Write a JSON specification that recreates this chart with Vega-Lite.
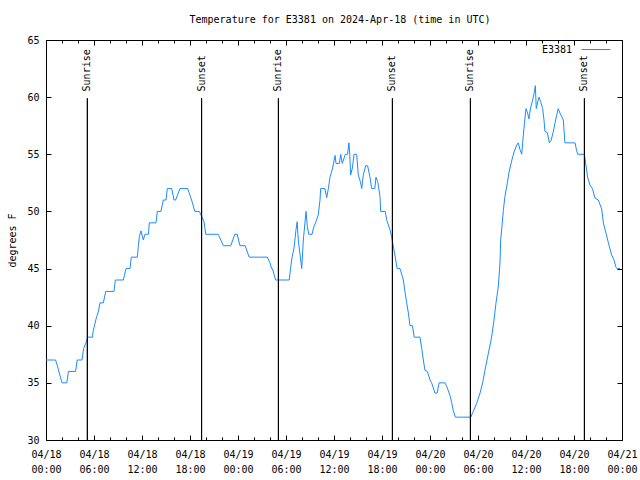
{
  "$schema": "https://vega.github.io/schema/vega-lite/v6.json",
  "width": 576,
  "height": 400,
  "autosize": {"type": "none"},
  "padding": {"left": 46, "top": 40, "right": 18, "bottom": 40},
  "background": "white",
  "title": {"text": "Temperature for E3381 on 2024-Apr-18 (time in UTC)", "font": "DejaVu Sans Mono", "fontSize": 10, "fontWeight": "normal", "color": "black", "anchor": "middle", "offset": 2, "baseline": "alphabetic", "dx": 6},
  "datasets": {
    "temps": [
      {"t": "2024-04-18T00:00:00Z", "v": 37},
      {"t": "2024-04-18T01:12:00Z", "v": 37},
      {"t": "2024-04-18T01:30:00Z", "v": 36.3},
      {"t": "2024-04-18T01:48:00Z", "v": 35.5},
      {"t": "2024-04-18T02:00:00Z", "v": 35},
      {"t": "2024-04-18T02:36:00Z", "v": 35},
      {"t": "2024-04-18T02:48:00Z", "v": 36},
      {"t": "2024-04-18T03:42:00Z", "v": 36},
      {"t": "2024-04-18T03:54:00Z", "v": 37},
      {"t": "2024-04-18T04:30:00Z", "v": 37},
      {"t": "2024-04-18T04:42:00Z", "v": 38},
      {"t": "2024-04-18T05:00:00Z", "v": 38.5},
      {"t": "2024-04-18T05:12:00Z", "v": 39},
      {"t": "2024-04-18T05:48:00Z", "v": 39},
      {"t": "2024-04-18T05:55:00Z", "v": 39.6},
      {"t": "2024-04-18T06:20:00Z", "v": 40.8},
      {"t": "2024-04-18T06:32:00Z", "v": 41.2},
      {"t": "2024-04-18T06:45:00Z", "v": 42},
      {"t": "2024-04-18T07:10:00Z", "v": 42},
      {"t": "2024-04-18T07:28:00Z", "v": 43},
      {"t": "2024-04-18T08:30:00Z", "v": 43},
      {"t": "2024-04-18T08:40:00Z", "v": 44},
      {"t": "2024-04-18T09:40:00Z", "v": 44},
      {"t": "2024-04-18T10:00:00Z", "v": 45},
      {"t": "2024-04-18T10:30:00Z", "v": 45},
      {"t": "2024-04-18T10:40:00Z", "v": 46},
      {"t": "2024-04-18T11:25:00Z", "v": 46},
      {"t": "2024-04-18T11:33:00Z", "v": 47},
      {"t": "2024-04-18T11:40:00Z", "v": 47.8},
      {"t": "2024-04-18T11:52:00Z", "v": 48.3},
      {"t": "2024-04-18T12:10:00Z", "v": 47.5},
      {"t": "2024-04-18T12:22:00Z", "v": 48},
      {"t": "2024-04-18T12:48:00Z", "v": 48},
      {"t": "2024-04-18T12:55:00Z", "v": 49},
      {"t": "2024-04-18T13:45:00Z", "v": 49},
      {"t": "2024-04-18T13:55:00Z", "v": 50},
      {"t": "2024-04-18T14:22:00Z", "v": 50},
      {"t": "2024-04-18T14:40:00Z", "v": 51},
      {"t": "2024-04-18T15:00:00Z", "v": 51},
      {"t": "2024-04-18T15:10:00Z", "v": 52},
      {"t": "2024-04-18T15:43:00Z", "v": 52},
      {"t": "2024-04-18T16:00:00Z", "v": 51},
      {"t": "2024-04-18T16:12:00Z", "v": 51},
      {"t": "2024-04-18T16:45:00Z", "v": 52},
      {"t": "2024-04-18T17:43:00Z", "v": 52},
      {"t": "2024-04-18T18:12:00Z", "v": 51},
      {"t": "2024-04-18T18:36:00Z", "v": 50},
      {"t": "2024-04-18T19:10:00Z", "v": 50},
      {"t": "2024-04-18T19:30:00Z", "v": 49.5},
      {"t": "2024-04-18T19:45:00Z", "v": 49.1},
      {"t": "2024-04-18T19:58:00Z", "v": 48},
      {"t": "2024-04-18T21:32:00Z", "v": 48},
      {"t": "2024-04-18T22:10:00Z", "v": 47},
      {"t": "2024-04-18T23:06:00Z", "v": 47},
      {"t": "2024-04-18T23:36:00Z", "v": 48},
      {"t": "2024-04-18T23:54:00Z", "v": 48},
      {"t": "2024-04-19T00:15:00Z", "v": 47},
      {"t": "2024-04-19T00:54:00Z", "v": 47},
      {"t": "2024-04-19T01:24:00Z", "v": 46},
      {"t": "2024-04-19T03:40:00Z", "v": 46},
      {"t": "2024-04-19T04:00:00Z", "v": 45.5},
      {"t": "2024-04-19T04:12:00Z", "v": 45},
      {"t": "2024-04-19T04:18:00Z", "v": 45},
      {"t": "2024-04-19T04:42:00Z", "v": 44},
      {"t": "2024-04-19T06:24:00Z", "v": 44},
      {"t": "2024-04-19T06:42:00Z", "v": 45.75},
      {"t": "2024-04-19T07:00:00Z", "v": 46.8},
      {"t": "2024-04-19T07:15:00Z", "v": 48.4},
      {"t": "2024-04-19T07:24:00Z", "v": 49.1},
      {"t": "2024-04-19T07:32:00Z", "v": 47.5},
      {"t": "2024-04-19T07:58:00Z", "v": 45},
      {"t": "2024-04-19T08:10:00Z", "v": 47.5},
      {"t": "2024-04-19T08:30:00Z", "v": 50},
      {"t": "2024-04-19T08:40:00Z", "v": 48.7},
      {"t": "2024-04-19T08:50:00Z", "v": 48},
      {"t": "2024-04-19T09:15:00Z", "v": 48},
      {"t": "2024-04-19T09:30:00Z", "v": 48.7},
      {"t": "2024-04-19T09:45:00Z", "v": 49.1},
      {"t": "2024-04-19T10:02:00Z", "v": 49.7},
      {"t": "2024-04-19T10:15:00Z", "v": 51},
      {"t": "2024-04-19T10:20:00Z", "v": 52},
      {"t": "2024-04-19T10:52:00Z", "v": 52},
      {"t": "2024-04-19T11:05:00Z", "v": 51.2},
      {"t": "2024-04-19T11:18:00Z", "v": 52},
      {"t": "2024-04-19T11:30:00Z", "v": 53},
      {"t": "2024-04-19T11:50:00Z", "v": 53.8},
      {"t": "2024-04-19T12:08:00Z", "v": 54.9},
      {"t": "2024-04-19T12:15:00Z", "v": 54.2},
      {"t": "2024-04-19T12:40:00Z", "v": 54.2},
      {"t": "2024-04-19T12:50:00Z", "v": 55},
      {"t": "2024-04-19T13:02:00Z", "v": 54.2},
      {"t": "2024-04-19T13:25:00Z", "v": 55},
      {"t": "2024-04-19T13:42:00Z", "v": 55},
      {"t": "2024-04-19T13:52:00Z", "v": 56},
      {"t": "2024-04-19T13:58:00Z", "v": 55},
      {"t": "2024-04-19T14:05:00Z", "v": 53.2},
      {"t": "2024-04-19T14:18:00Z", "v": 53.8},
      {"t": "2024-04-19T14:30:00Z", "v": 55},
      {"t": "2024-04-19T14:50:00Z", "v": 55},
      {"t": "2024-04-19T15:02:00Z", "v": 53.2},
      {"t": "2024-04-19T15:20:00Z", "v": 52.5},
      {"t": "2024-04-19T15:28:00Z", "v": 52},
      {"t": "2024-04-19T15:40:00Z", "v": 53.2},
      {"t": "2024-04-19T15:58:00Z", "v": 54},
      {"t": "2024-04-19T16:12:00Z", "v": 54},
      {"t": "2024-04-19T16:30:00Z", "v": 53},
      {"t": "2024-04-19T16:42:00Z", "v": 52},
      {"t": "2024-04-19T17:06:00Z", "v": 52},
      {"t": "2024-04-19T17:15:00Z", "v": 53},
      {"t": "2024-04-19T17:28:00Z", "v": 52.6},
      {"t": "2024-04-19T17:45:00Z", "v": 51.3},
      {"t": "2024-04-19T17:50:00Z", "v": 50},
      {"t": "2024-04-19T18:24:00Z", "v": 50},
      {"t": "2024-04-19T18:36:00Z", "v": 49.2},
      {"t": "2024-04-19T19:00:00Z", "v": 48.4},
      {"t": "2024-04-19T19:12:00Z", "v": 47.8},
      {"t": "2024-04-19T19:24:00Z", "v": 47},
      {"t": "2024-04-19T19:36:00Z", "v": 46.2},
      {"t": "2024-04-19T19:54:00Z", "v": 45},
      {"t": "2024-04-19T20:15:00Z", "v": 45},
      {"t": "2024-04-19T20:28:00Z", "v": 44.5},
      {"t": "2024-04-19T20:40:00Z", "v": 44},
      {"t": "2024-04-19T20:52:00Z", "v": 43},
      {"t": "2024-04-19T21:05:00Z", "v": 42},
      {"t": "2024-04-19T21:18:00Z", "v": 41.1},
      {"t": "2024-04-19T21:30:00Z", "v": 40},
      {"t": "2024-04-19T21:48:00Z", "v": 40},
      {"t": "2024-04-19T22:02:00Z", "v": 39},
      {"t": "2024-04-19T22:45:00Z", "v": 39},
      {"t": "2024-04-19T22:58:00Z", "v": 38},
      {"t": "2024-04-19T23:10:00Z", "v": 37},
      {"t": "2024-04-19T23:22:00Z", "v": 36.1},
      {"t": "2024-04-19T23:40:00Z", "v": 36},
      {"t": "2024-04-20T00:00:00Z", "v": 35.25},
      {"t": "2024-04-20T00:12:00Z", "v": 35},
      {"t": "2024-04-20T00:38:00Z", "v": 34.1},
      {"t": "2024-04-20T00:54:00Z", "v": 34.1},
      {"t": "2024-04-20T01:08:00Z", "v": 35},
      {"t": "2024-04-20T01:52:00Z", "v": 35},
      {"t": "2024-04-20T02:05:00Z", "v": 34.7},
      {"t": "2024-04-20T02:30:00Z", "v": 33.9},
      {"t": "2024-04-20T02:42:00Z", "v": 33.3},
      {"t": "2024-04-20T02:54:00Z", "v": 32.6},
      {"t": "2024-04-20T03:10:00Z", "v": 32},
      {"t": "2024-04-20T05:06:00Z", "v": 32},
      {"t": "2024-04-20T05:24:00Z", "v": 32.5},
      {"t": "2024-04-20T05:50:00Z", "v": 33.2},
      {"t": "2024-04-20T06:15:00Z", "v": 34.1},
      {"t": "2024-04-20T06:35:00Z", "v": 35},
      {"t": "2024-04-20T06:52:00Z", "v": 36.1},
      {"t": "2024-04-20T07:18:00Z", "v": 37.6},
      {"t": "2024-04-20T07:42:00Z", "v": 39},
      {"t": "2024-04-20T08:00:00Z", "v": 40.5},
      {"t": "2024-04-20T08:15:00Z", "v": 42},
      {"t": "2024-04-20T08:32:00Z", "v": 43.4},
      {"t": "2024-04-20T08:45:00Z", "v": 45.5},
      {"t": "2024-04-20T08:50:00Z", "v": 47.5},
      {"t": "2024-04-20T09:02:00Z", "v": 49},
      {"t": "2024-04-20T09:10:00Z", "v": 50.1},
      {"t": "2024-04-20T09:22:00Z", "v": 51.3},
      {"t": "2024-04-20T09:40:00Z", "v": 52.5},
      {"t": "2024-04-20T09:54:00Z", "v": 53.5},
      {"t": "2024-04-20T10:12:00Z", "v": 54.4},
      {"t": "2024-04-20T10:30:00Z", "v": 55.2},
      {"t": "2024-04-20T10:50:00Z", "v": 55.8},
      {"t": "2024-04-20T11:02:00Z", "v": 56},
      {"t": "2024-04-20T11:15:00Z", "v": 55.4},
      {"t": "2024-04-20T11:28:00Z", "v": 55},
      {"t": "2024-04-20T11:35:00Z", "v": 56},
      {"t": "2024-04-20T11:48:00Z", "v": 57.7},
      {"t": "2024-04-20T12:00:00Z", "v": 59},
      {"t": "2024-04-20T12:12:00Z", "v": 58.6},
      {"t": "2024-04-20T12:22:00Z", "v": 58.1},
      {"t": "2024-04-20T12:35:00Z", "v": 59.1},
      {"t": "2024-04-20T12:50:00Z", "v": 59.75},
      {"t": "2024-04-20T13:00:00Z", "v": 60.3},
      {"t": "2024-04-20T13:10:00Z", "v": 61},
      {"t": "2024-04-20T13:17:00Z", "v": 59},
      {"t": "2024-04-20T13:28:00Z", "v": 59.6},
      {"t": "2024-04-20T13:38:00Z", "v": 60},
      {"t": "2024-04-20T13:50:00Z", "v": 59.6},
      {"t": "2024-04-20T14:05:00Z", "v": 59},
      {"t": "2024-04-20T14:15:00Z", "v": 58},
      {"t": "2024-04-20T14:22:00Z", "v": 57},
      {"t": "2024-04-20T14:40:00Z", "v": 56.9},
      {"t": "2024-04-20T14:55:00Z", "v": 56},
      {"t": "2024-04-20T15:08:00Z", "v": 56.2},
      {"t": "2024-04-20T15:25:00Z", "v": 57},
      {"t": "2024-04-20T15:42:00Z", "v": 58},
      {"t": "2024-04-20T16:02:00Z", "v": 59},
      {"t": "2024-04-20T16:15:00Z", "v": 58.6},
      {"t": "2024-04-20T16:28:00Z", "v": 58.3},
      {"t": "2024-04-20T16:40:00Z", "v": 58},
      {"t": "2024-04-20T16:52:00Z", "v": 56},
      {"t": "2024-04-20T18:08:00Z", "v": 56},
      {"t": "2024-04-20T18:20:00Z", "v": 55.3},
      {"t": "2024-04-20T18:28:00Z", "v": 55},
      {"t": "2024-04-20T19:18:00Z", "v": 55},
      {"t": "2024-04-20T19:30:00Z", "v": 54},
      {"t": "2024-04-20T19:42:00Z", "v": 53},
      {"t": "2024-04-20T20:00:00Z", "v": 52.3},
      {"t": "2024-04-20T20:18:00Z", "v": 52},
      {"t": "2024-04-20T20:38:00Z", "v": 51.15},
      {"t": "2024-04-20T21:02:00Z", "v": 51},
      {"t": "2024-04-20T21:28:00Z", "v": 50.2},
      {"t": "2024-04-20T21:40:00Z", "v": 49},
      {"t": "2024-04-20T22:00:00Z", "v": 48.1},
      {"t": "2024-04-20T22:18:00Z", "v": 47.25},
      {"t": "2024-04-20T22:42:00Z", "v": 46.2},
      {"t": "2024-04-20T23:00:00Z", "v": 45.75},
      {"t": "2024-04-20T23:15:00Z", "v": 45.1},
      {"t": "2024-04-20T23:24:00Z", "v": 45},
      {"t": "2024-04-20T23:45:00Z", "v": 45}
    ],
    "events": [
      {"t": "2024-04-18T05:10:00Z", "label": "Sunrise"},
      {"t": "2024-04-18T19:27:00Z", "label": "Sunset"},
      {"t": "2024-04-19T05:03:00Z", "label": "Sunrise"},
      {"t": "2024-04-19T19:18:00Z", "label": "Sunset"},
      {"t": "2024-04-20T05:03:00Z", "label": "Sunrise"},
      {"t": "2024-04-20T19:18:00Z", "label": "Sunset"}
    ]
  },
  "resolve": {"axis": {"x": "independent", "y": "independent"}},
  "layer": [
    {
      "data": {"name": "temps"},
      "mark": {"type": "line", "strokeWidth": 1, "interpolate": "linear"},
      "encoding": {
        "x": {
          "field": "t", "type": "temporal",
          "scale": {"type": "utc", "domain": [1713398400000, 1713657600000], "nice": false},
          "axis": {
            "orient": "bottom", "title": null,
            "values": [1713398400000, 1713420000000, 1713441600000, 1713463200000, 1713484800000, 1713506400000, 1713528000000, 1713549600000, 1713571200000, 1713592800000, 1713614400000, 1713636000000, 1713657600000],
            "tickSize": -5,
            "labelExpr": "[utcFormat(datum.value, '%m/%d'), utcFormat(datum.value, '%H:%M')]",
            "labelOverlap": false, "labelFlush": false, "labelPadding": 14, "labelLineHeight": 15, "labelBaseline": "top"
          }
        },
        "y": {
          "field": "v", "type": "quantitative",
          "scale": {"domain": [30, 65], "nice": false, "zero": false},
          "axis": {"orient": "left", "title": "degrees F", "values": [30, 35, 40, 45, 50, 55, 60, 65], "tickSize": -5, "labelPadding": 12, "titlePadding": 9}
        },
        "color": {
          "datum": "E3381", "type": "nominal",
          "scale": {"range": ["#1a8cff"]},
          "legend": {"title": null, "orient": "none", "legendX": 535, "legendY": -5.5, "symbolType": "stroke", "symbolSize": 841, "symbolStrokeWidth": 1, "labelAlign": "right", "labelOffset": -39, "labelFont": "DejaVu Sans Mono", "labelFontSize": 10, "labelColor": "black", "padding": 0}
        }
      }
    },
    {
      "data": {"name": "events"},
      "mark": {"type": "rule", "color": "black", "strokeWidth": 1},
      "encoding": {
        "x": {
          "field": "t", "type": "temporal",
          "axis": {
            "orient": "top", "title": null, "labels": false,
            "values": [1713398400000, 1713420000000, 1713441600000, 1713463200000, 1713484800000, 1713506400000, 1713528000000, 1713549600000, 1713571200000, 1713592800000, 1713614400000, 1713636000000, 1713657600000],
            "tickSize": -5
          }
        },
        "y": {"datum": 59.9, "type": "quantitative", "axis": {"orient": "right", "title": null, "labels": false, "values": [30, 35, 40, 45, 50, 55, 60, 65], "tickSize": -5}},
        "y2": {"datum": 30}
      }
    },
    {
      "data": {"name": "events"},
      "mark": {"type": "text", "angle": 270, "align": "left", "baseline": "middle", "font": "DejaVu Sans Mono", "fontSize": 10, "color": "black"},
      "encoding": {
        "x": {
          "field": "t", "type": "temporal",
          "axis": {
            "orient": "bottom", "title": null, "labels": false,
            "values": [1713405600000, 1713412800000, 1713427200000, 1713434400000, 1713448800000, 1713456000000, 1713470400000, 1713477600000, 1713492000000, 1713499200000, 1713513600000, 1713520800000, 1713535200000, 1713542400000, 1713556800000, 1713564000000, 1713578400000, 1713585600000, 1713600000000, 1713607200000, 1713621600000, 1713628800000, 1713643200000, 1713650400000],
            "tickSize": -3
          }
        },
        "y": {"datum": 60.5, "type": "quantitative", "axis": null},
        "text": {"field": "label", "type": "nominal"}
      }
    },
    {
      "data": {"name": "events"},
      "mark": {"type": "rule", "color": "black", "strokeWidth": 1},
      "encoding": {
        "x": {
          "field": "t", "type": "temporal",
          "axis": {
            "orient": "top", "title": null, "labels": false,
            "values": [1713405600000, 1713412800000, 1713427200000, 1713434400000, 1713448800000, 1713456000000, 1713470400000, 1713477600000, 1713492000000, 1713499200000, 1713513600000, 1713520800000, 1713535200000, 1713542400000, 1713556800000, 1713564000000, 1713578400000, 1713585600000, 1713600000000, 1713607200000, 1713621600000, 1713628800000, 1713643200000, 1713650400000],
            "tickSize": -3
          }
        },
        "y": {"datum": 59.9, "type": "quantitative", "axis": null},
        "y2": {"datum": 30}
      }
    }
  ],
  "config": {
    "view": {"stroke": "black", "strokeWidth": 1},
    "axis": {"grid": false, "domain": false, "tickColor": "black", "labelColor": "black", "labelFont": "DejaVu Sans Mono", "labelFontSize": 10, "titleFont": "DejaVu Sans Mono", "titleFontSize": 10, "titleFontWeight": "normal", "titleColor": "black"}
  }
}
